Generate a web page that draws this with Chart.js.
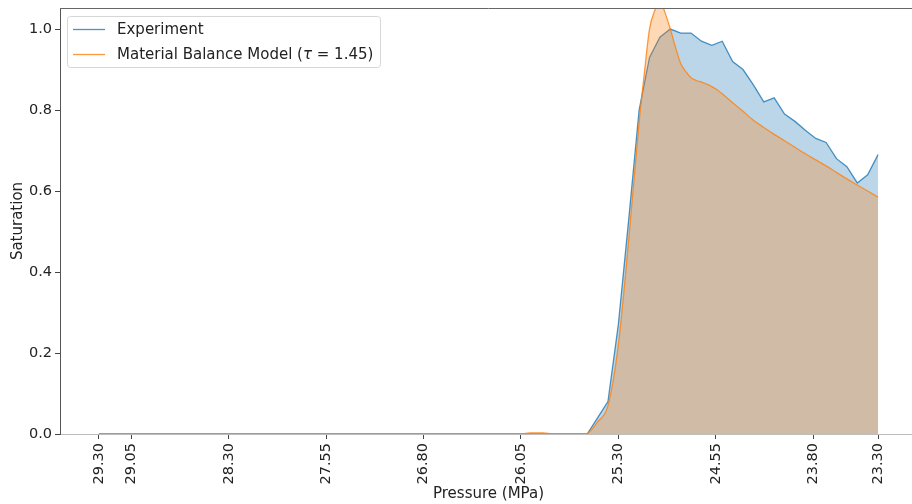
<!DOCTYPE html>
<html>
<head>
<meta charset="utf-8">
<title>Saturation vs pressure</title>
<script src="https://cdn.jsdelivr.net/npm/chart.js@4.4.0/dist/chart.umd.min.js"></script>
<style>
  html, body { margin: 0; padding: 0; background: #fff; overflow: hidden; }
  #wrap { position: relative; width: 920px; height: 504px; }
</style>
</head>
<body>
<div id="wrap"><canvas id="satChart"></canvas></div>
<script>
// tick positions
const pressureTicks = [29.30, 29.05, 28.30, 27.55, 26.80, 26.05, 25.30, 24.55, 23.80, 23.30];
const satTicks = [0.0, 0.2, 0.4, 0.6, 0.8, 1.0];

// measured saturation (pressure falls left to right)
const expPressure = [29.30, 25.54, 25.46, 25.38, 25.30, 25.22, 25.14, 25.06, 24.98, 24.90,
  24.82, 24.74, 24.66, 24.58, 24.50, 24.42, 24.34, 24.26, 24.18, 24.10,
  24.02, 23.94, 23.86, 23.78, 23.70, 23.62, 23.54, 23.46, 23.38, 23.30];
const expSaturation = [0, 0, 0.04, 0.08, 0.27, 0.53, 0.80, 0.93, 0.98, 1.00,
  0.99, 0.99, 0.97, 0.96, 0.97, 0.92, 0.90, 0.862, 0.82, 0.83,
  0.79, 0.772, 0.75, 0.73, 0.72, 0.68, 0.66, 0.62, 0.64, 0.69];

// material balance model, tau = 1.45
const modelPressure = [29.30, 26.05, 25.98, 25.88, 25.80, 25.55, 25.46, 25.38, 25.30, 25.22,
  25.14, 25.10, 25.06, 25.02, 24.98, 24.94, 24.90, 24.86, 24.82, 24.78,
  24.74, 24.70, 24.66, 24.62, 24.58, 24.54, 24.50, 24.42, 24.34, 24.26,
  24.18, 24.10, 24.02, 23.94, 23.86, 23.78, 23.70, 23.62, 23.54, 23.46,
  23.38, 23.30];
const modelSaturation = [0, 0, 0.003, 0.003, 0, 0, 0.03, 0.07, 0.22, 0.48,
  0.77, 0.89, 1.00, 1.045, 1.07, 1.04, 1.00, 0.955, 0.915, 0.895,
  0.88, 0.873, 0.869, 0.864, 0.858, 0.85, 0.84, 0.818, 0.797, 0.775,
  0.757, 0.74, 0.724, 0.708, 0.692, 0.677, 0.662, 0.646, 0.630, 0.615,
  0.600, 0.585];

const FONT = "'DejaVu Sans', sans-serif";

function toPoints(xs, ys) {
  return xs.map((x, i) => ({ x: x, y: ys[i] }));
}

// top spine + framed legend in the upper-left corner
const frameAndLegend = {
  id: 'frameAndLegend',
  afterDraw(chart) {
    const { ctx, chartArea } = chart;
    ctx.save();
    ctx.strokeStyle = '#666';
    ctx.lineWidth = 1;
    ctx.beginPath();
    ctx.moveTo(chartArea.left, chartArea.top + 0.5);
    ctx.lineTo(chartArea.right, chartArea.top + 0.5);
    ctx.stroke();

    const bx = 67.5, by = 16.5, bw = 313, bh = 51;
    ctx.beginPath();
    ctx.roundRect(bx, by, bw, bh, 3);
    ctx.fillStyle = 'rgba(255,255,255,0.8)';
    ctx.fill();
    ctx.strokeStyle = '#d6d6d6';
    ctx.stroke();

    chart.data.datasets.forEach((ds, i) => {
      const y = 29.5 + i * 25;
      ctx.strokeStyle = ds.borderColor;
      ctx.lineWidth = ds.borderWidth;
      ctx.beginPath();
      ctx.moveTo(73, y);
      ctx.lineTo(105, y);
      ctx.stroke();

      ctx.fillStyle = '#222';
      ctx.textBaseline = 'middle';
      ctx.textAlign = 'left';
      let x = 117;
      const parts = ds.label.split('τ');
      parts.forEach((part, k) => {
        if (k > 0) {
          ctx.font = 'italic 15px ' + FONT;
          ctx.fillText('τ', x, y + 1);
          x += ctx.measureText('τ').width;
        }
        ctx.font = '15px ' + FONT;
        ctx.fillText(part, x, y + 1);
        x += ctx.measureText(part).width;
      });
    });
    ctx.restore();
  }
};

new Chart(document.getElementById('satChart'), {
  type: 'line',
  data: {
    datasets: [
      {
        label: 'Experiment',
        data: toPoints(expPressure, expSaturation),
        borderColor: 'rgba(31,119,180,0.8)',
        backgroundColor: 'rgba(31,119,180,0.3)',
        borderWidth: 1.3,
        fill: 'origin',
        pointRadius: 0,
        tension: 0,
        order: 1
      },
      {
        label: 'Material Balance Model (τ = 1.45)',
        data: toPoints(modelPressure, modelSaturation),
        borderColor: 'rgba(255,127,14,0.8)',
        backgroundColor: 'rgba(255,127,14,0.3)',
        borderWidth: 1.3,
        fill: 'origin',
        pointRadius: 0,
        cubicInterpolationMode: 'monotone',
        order: 0
      }
    ]
  },
  options: {
    responsive: true,
    maintainAspectRatio: false,
    animation: false,
    parsing: false,
    layout: { padding: { top: 8, right: 3, bottom: 0, left: 0 } },
    plugins: {
      legend: { display: false },
      tooltip: { enabled: false }
    },
    scales: {
      x: {
        type: 'linear',
        reverse: true,
        min: 23.0,
        max: 29.6,
        afterBuildTicks: s => { s.ticks = pressureTicks.map(v => ({ value: v })); },
        afterFit: s => { s.height = 70; s.paddingLeft = 0; s.paddingRight = 0; },
        grid: { display: true, drawOnChartArea: false, drawTicks: true, tickLength: 5, tickColor: '#444', color: '#444' },
        border: { display: true, color: '#bdbdbd', width: 1 },
        ticks: {
          autoSkip: false,
          minRotation: 90,
          maxRotation: 90,
          padding: 4,
          color: '#222',
          font: { family: FONT, size: 14.5 },
          callback: v => v.toFixed(2)
        },
        title: {
          display: true,
          text: 'Pressure (MPa)',
          color: '#222',
          font: { family: FONT, size: 15 },
          padding: { top: 0, bottom: 1 }
        }
      },
      y: {
        min: 0,
        max: 1.052,
        afterBuildTicks: s => { s.ticks = satTicks.map(v => ({ value: v })); },
        afterFit: s => { s.width = 60; s.paddingTop = 0; s.paddingBottom = 0; },
        grid: { display: true, drawOnChartArea: false, drawTicks: true, tickLength: 5, tickColor: '#444', color: '#444' },
        border: { display: true, color: '#555', width: 1 },
        ticks: {
          padding: 3,
          color: '#222',
          font: { family: FONT, size: 14.5 },
          callback: v => v.toFixed(1)
        },
        title: {
          display: true,
          text: 'Saturation',
          color: '#222',
          font: { family: FONT, size: 15 },
          padding: { top: 9, bottom: 0 }
        }
      }
    }
  },
  plugins: [frameAndLegend]
});
</script>
</body>
</html>
